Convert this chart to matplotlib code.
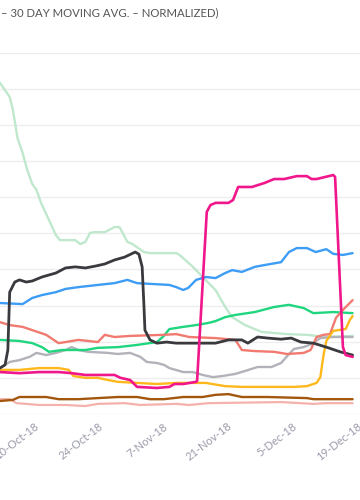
import pandas as pd
import matplotlib
matplotlib.use("Agg")
import matplotlib.pyplot as plt

# x values are days after 2-Oct-2018, y values are normalized (0..1)
base_date = pd.Timestamp("2018-10-02")

mint_days = [0, 2.1, 2.8, 3.8, 4.9, 5.9, 7.0, 7.9, 8.9, 10.6, 12.1, 13.0, 16.3, 17.4, 18.5, 19.5,
             20.6, 22.7, 24.8, 25.9, 27.6, 28.7, 31.2, 32.5, 38.2, 38.9, 41.8, 43.9, 46.7, 48.8,
             50.3, 53.1, 56.7, 62.2, 66.5, 70.7, 76.4]
mint_vals = [0.916, 0.877, 0.841, 0.763, 0.722, 0.675, 0.636, 0.620, 0.584, 0.537, 0.495, 0.481,
             0.481, 0.470, 0.476, 0.501, 0.503, 0.503, 0.517, 0.517, 0.476, 0.470, 0.448, 0.445,
             0.445, 0.440, 0.407, 0.379, 0.343, 0.296, 0.268, 0.246, 0.227, 0.221, 0.219, 0.213,
             0.216]

black_days = [0, 1.1, 1.7, 2.1, 3.2, 4.2, 5.7, 7.0, 9.1, 12.1, 14.2, 16.3, 18.5, 20.6, 22.7, 24.8,
              27.0, 29.3, 30.1, 30.8, 31.2, 31.4, 32.5, 34.0, 36.1, 38.2, 46.7, 49.5, 52.4, 53.7,
              55.8, 58.0, 60.9, 63.1, 65.2, 67.9, 70.7, 73.7, 76.4]
black_vals = [0.127, 0.136, 0.177, 0.337, 0.365, 0.371, 0.365, 0.368, 0.379, 0.390, 0.404, 0.407,
              0.404, 0.409, 0.415, 0.426, 0.434, 0.448, 0.442, 0.407, 0.296, 0.232, 0.205, 0.196,
              0.199, 0.196, 0.196, 0.205, 0.205, 0.196, 0.213, 0.210, 0.207, 0.210, 0.199, 0.196,
              0.185, 0.172, 0.163]

blue_days = [0, 4.9, 7.0, 9.1, 12.1, 14.2, 17.0, 21.2, 24.8, 27.6, 29.7, 32.5, 36.7, 38.2, 39.7,
             40.8, 42.5, 44.6, 46.7, 48.8, 50.3, 52.4, 55.2, 57.3, 60.9, 62.6, 64.3, 66.5, 68.4,
             70.7, 72.2, 74.3, 76.4]
blue_vals = [0.307, 0.304, 0.321, 0.329, 0.337, 0.346, 0.351, 0.357, 0.362, 0.371, 0.362, 0.360,
             0.357, 0.351, 0.343, 0.349, 0.371, 0.379, 0.376, 0.390, 0.398, 0.393, 0.407, 0.412,
             0.420, 0.448, 0.459, 0.459, 0.448, 0.456, 0.443, 0.440, 0.445]

pink_days = [0, 4.2, 8.5, 12.7, 15.5, 18.5, 24.8, 26.1, 28.2, 29.7, 34.0, 36.7, 37.8, 39.7, 42.5,
             42.7, 44.8, 45.6, 46.7, 49.5, 50.5, 51.6, 54.6, 55.8, 57.3, 59.4, 61.6, 64.3, 66.5,
             67.5, 68.6, 72.2, 72.6, 74.3, 74.9, 76.4]
pink_vals = [0.116, 0.113, 0.116, 0.116, 0.113, 0.108, 0.108, 0.100, 0.094, 0.075, 0.072, 0.075,
             0.083, 0.083, 0.089, 0.091, 0.559, 0.578, 0.584, 0.584, 0.592, 0.628, 0.628, 0.633,
             0.639, 0.650, 0.650, 0.658, 0.658, 0.650, 0.650, 0.661, 0.656, 0.185, 0.163, 0.158]

salmon_days = [0, 2.1, 4.9, 7.0, 10.0, 12.7, 14.2, 17.0, 21.2, 22.7, 24.8, 28.2, 35.5, 38.2, 41.0,
               46.7, 51.0, 52.4, 55.2, 59.4, 62.2, 65.8, 67.3, 68.6, 70.1, 71.5, 72.8, 74.3, 76.4]
salmon_vals = [0.254, 0.246, 0.241, 0.232, 0.219, 0.196, 0.199, 0.205, 0.199, 0.219, 0.213, 0.216,
               0.219, 0.221, 0.213, 0.210, 0.205, 0.177, 0.174, 0.172, 0.166, 0.169, 0.177, 0.213,
               0.219, 0.221, 0.266, 0.288, 0.315]

green_days = [0, 4.2, 7.0, 9.1, 10.6, 13.4, 18.5, 21.2, 25.5, 29.7, 34.0, 35.5, 36.7, 39.7, 42.5,
              45.2, 46.7, 48.8, 51.0, 55.2, 59.4, 62.6, 65.8, 67.9, 72.2, 76.4]
green_vals = [0.205, 0.202, 0.196, 0.185, 0.172, 0.177, 0.177, 0.183, 0.185, 0.191, 0.199, 0.216,
              0.235, 0.241, 0.246, 0.252, 0.257, 0.268, 0.274, 0.282, 0.296, 0.302, 0.293, 0.279,
              0.282, 0.279]

gray_days = [0, 2.1, 4.2, 6.4, 7.9, 10.0, 12.1, 14.2, 15.5, 17.0, 19.1, 23.4, 25.5, 28.2, 30.4,
             31.8, 34.0, 35.5, 36.7, 39.7, 41.8, 43.9, 46.1, 48.2, 51.0, 53.1, 55.8, 58.8, 60.9,
             62.2, 63.7, 65.8, 67.9, 69.4, 72.2, 76.4]
gray_vals = [0.127, 0.144, 0.149, 0.158, 0.169, 0.163, 0.169, 0.177, 0.185, 0.177, 0.172, 0.169,
             0.166, 0.169, 0.158, 0.144, 0.141, 0.136, 0.127, 0.116, 0.116, 0.108, 0.102, 0.105,
             0.111, 0.119, 0.130, 0.130, 0.141, 0.160, 0.180, 0.185, 0.196, 0.210, 0.213, 0.213]

yellow_days = [0, 4.2, 8.5, 12.7, 14.9, 15.9, 18.5, 21.2, 23.4, 25.5, 29.7, 34.0, 38.2, 44.6, 48.8,
               52.4, 56.7, 63.7, 66.5, 68.6, 69.4, 70.1, 70.7, 72.2, 74.9, 75.8, 76.4]
yellow_vals = [0.122, 0.122, 0.127, 0.127, 0.122, 0.105, 0.100, 0.100, 0.094, 0.089, 0.086, 0.083,
               0.086, 0.086, 0.077, 0.075, 0.075, 0.075, 0.077, 0.086, 0.102, 0.163, 0.202, 0.230,
               0.235, 0.260, 0.271]

brown_days = [0, 2.8, 4.2, 10.0, 12.7, 17.0, 21.2, 25.5, 29.7, 32.5, 35.5, 39.7, 43.9, 46.7, 49.5,
              52.4, 58.0, 66.5, 67.9, 76.4]
brown_vals = [0.036, 0.039, 0.047, 0.047, 0.041, 0.041, 0.044, 0.047, 0.047, 0.041, 0.041, 0.047,
              0.047, 0.053, 0.055, 0.047, 0.047, 0.044, 0.041, 0.041]

rose_days = [0, 2.1, 3.6, 8.5, 14.2, 18.5, 21.2, 27.0, 30.4, 38.2, 41.0, 45.2, 60.9, 67.9, 70.7, 76.4]
rose_vals = [0.041, 0.041, 0.030, 0.025, 0.025, 0.022, 0.028, 0.030, 0.025, 0.028, 0.025, 0.030,
             0.033, 0.028, 0.030, 0.030]

tick_dates = ["2018-10-10", "2018-10-24", "2018-11-07", "2018-11-21", "2018-12-05", "2018-12-19"]
tick_labels = ["10-Oct-18", "24-Oct-18", "7-Nov-18", "21-Nov-18", "5-Dec-18", "19-Dec-18"]

series = [
    (rose_days, rose_vals, "#f5b1ab", 1.6),
    (brown_days, brown_vals, "#a3560e", 1.7),
    (mint_days, mint_vals, "#bfe8cd", 1.7),
    (gray_days, gray_vals, "#b2b2ba", 1.7),
    (green_days, green_vals, "#1fd67e", 1.7),
    (salmon_days, salmon_vals, "#f07a70", 1.7),
    (blue_days, blue_vals, "#3d9df5", 1.7),
    (yellow_days, yellow_vals, "#ffb81c", 1.7),
    (black_days, black_vals, "#3a3a3e", 2.0),
    (pink_days, pink_vals, "#f0168c", 1.9),
]

plt.rcParams["font.family"] = ["Lato", "DejaVu Sans"]

fig = plt.figure(figsize=(3.6, 5.0), dpi=100)
ax = fig.add_axes([0, 0.172, 1, 0.723])

def to_dates(days):
    return base_date + pd.to_timedelta(days, unit="D")

for d, v, c, lw in series:
    ax.plot(to_dates(d), v, color=c, lw=lw, solid_joinstyle="round", solid_capstyle="round")

ax.set_xlim(base_date, base_date + pd.Timedelta(days=76.4))
ax.set_ylim(0, 1)
ax.set_yticks([i / 10 for i in range(11)])
ax.yaxis.grid(True, color="#eeeeee", lw=1)
ax.set_axisbelow(True)
ax.tick_params(axis="y", left=False, labelleft=False)
for s in ax.spines.values():
    s.set_visible(False)

ax.set_xticks(pd.to_datetime(tick_dates))
ax.set_xticklabels(tick_labels, rotation=38, ha="right", va="center",
                   rotation_mode="anchor", color="#9b9bab", fontsize=8)
ax.tick_params(axis="x", length=0, pad=8)

fig.text(0.002, 0.974, "– 30 DAY MOVING AVG. – NORMALIZED)", ha="left", va="center",
         fontsize=8.2, color="#555555")

fig.savefig("out.png", dpi=100)
